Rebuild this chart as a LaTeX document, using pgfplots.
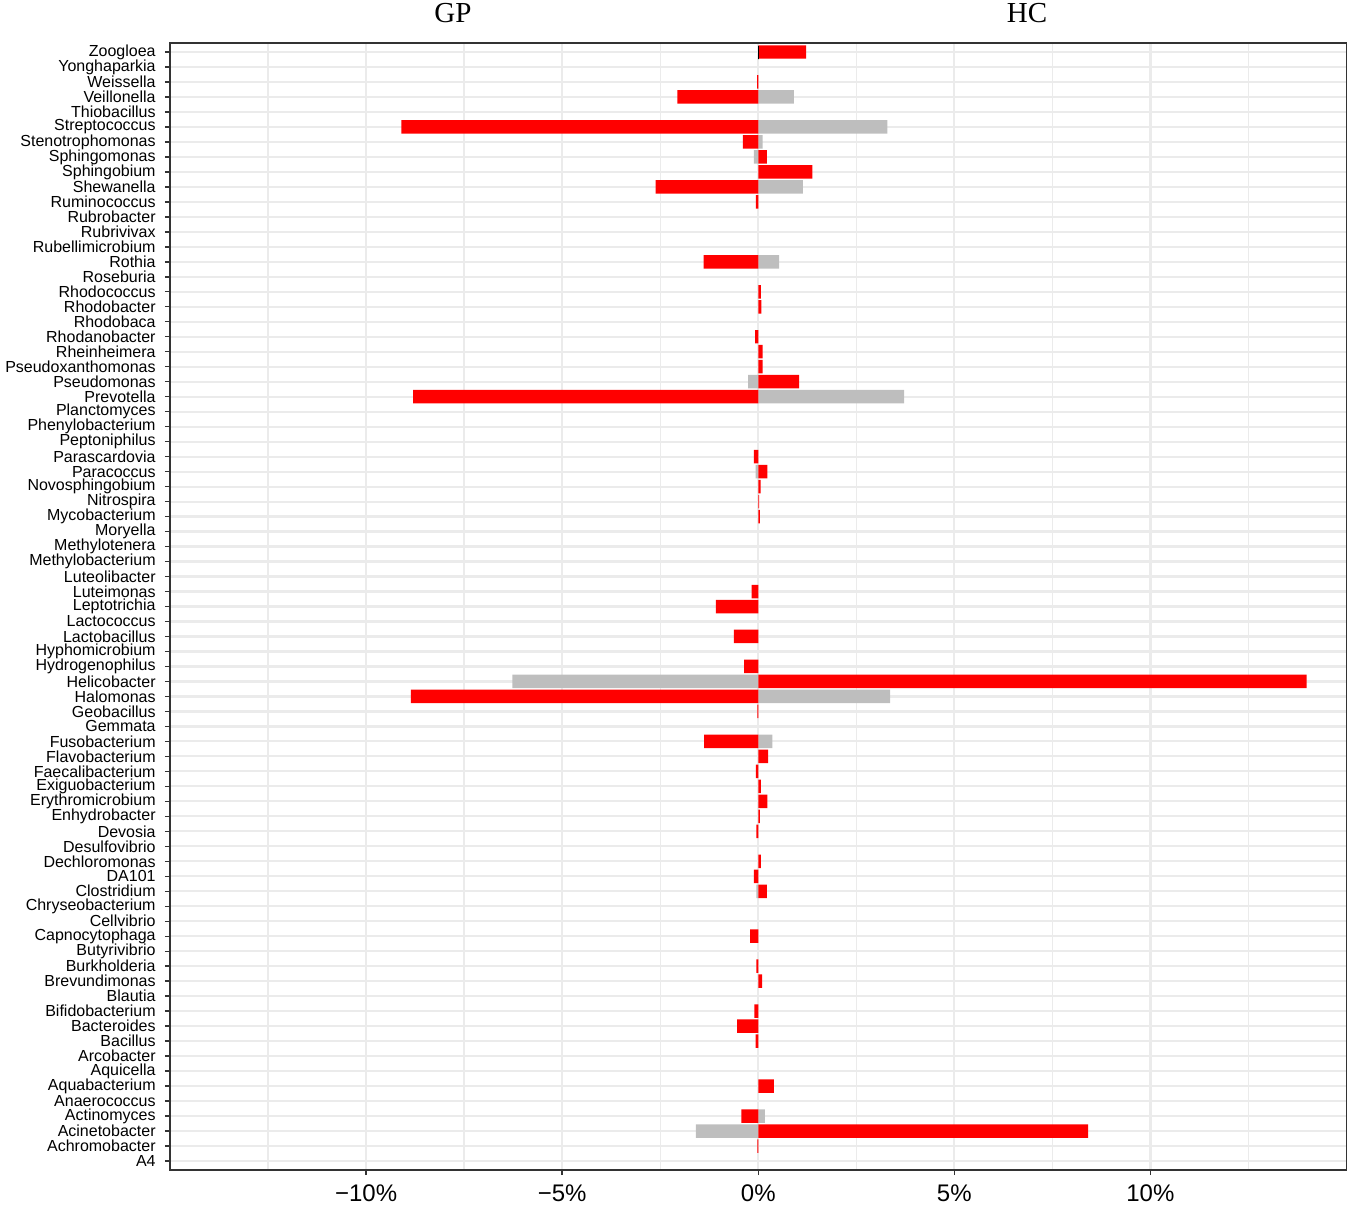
\documentclass[border=0pt]{standalone}
\usepackage{fontspec}
\setmainfont{Liberation Sans}
\newfontfamily\seriffont{Liberation Serif}
\usepackage{pgfplots}
\pgfplotsset{compat=1.18}
\definecolor{hcred}{HTML}{FF0000}
\definecolor{gpgray}{HTML}{BEBEBE}
\definecolor{gridgray}{HTML}{EBEBEB}
\definecolor{framegray}{HTML}{333333}

\begin{document}
\begin{tikzpicture}
\path[use as bounding box] (0,0) rectangle (675pt,602.5pt);
\begin{axis}[
  at={(85pt,17.5pt)}, anchor=south west,
  scale only axis, width=588.25pt, height=563.5pt,
  xmin=-15, xmax=15, ymin=0.4, ymax=75.6, y dir=reverse,
  xtick={-10,-5,0,5,10},
  xticklabels={−10\%,−5\%,0\%,5\%,10\%},
  minor xtick={-12.5,-7.5,-2.5,2.5,7.5,12.5},
  ytick={1,...,75},
  yticklabels={Zoogloea,Yonghaparkia,Weissella,Veillonella,Thiobacillus,Streptococcus,Stenotrophomonas,Sphingomonas,Sphingobium,Shewanella,Ruminococcus,Rubrobacter,Rubrivivax,Rubellimicrobium,Rothia,Roseburia,Rhodococcus,Rhodobacter,Rhodobaca,Rhodanobacter,Rheinheimera,Pseudoxanthomonas,Pseudomonas,Prevotella,Planctomyces,Phenylobacterium,Peptoniphilus,Parascardovia,Paracoccus,Novosphingobium,Nitrospira,Mycobacterium,Moryella,Methylotenera,Methylobacterium,Luteolibacter,Luteimonas,Leptotrichia,Lactococcus,Lactobacillus,Hyphomicrobium,Hydrogenophilus,Helicobacter,Halomonas,Geobacillus,Gemmata,Fusobacterium,Flavobacterium,Faecalibacterium,Exiguobacterium,Erythromicrobium,Enhydrobacter,Devosia,Desulfovibrio,Dechloromonas,DA101,Clostridium,Chryseobacterium,Cellvibrio,Capnocytophaga,Butyrivibrio,Burkholderia,Brevundimonas,Blautia,Bifidobacterium,Bacteroides,Bacillus,Arcobacter,Aquicella,Aquabacterium,Anaerococcus,Actinomyces,Acinetobacter,Achromobacter,A4},
  xtick pos=bottom, ytick pos=left,
  xmajorgrids, xminorgrids, ymajorgrids,
  major grid style={gridgray, line width=1.1pt},
  minor grid style={gridgray, line width=0.7pt},
  axis line style={framegray, line width=0.7pt},
  tick align=outside, major tick length=2.5pt, minor tick length=0pt,
  tick style={framegray, line width=0.7pt},
  xticklabel style={font=\fontsize{12}{12}\selectfont, inner sep=0pt, yshift=-4.5pt},
  yticklabel style={font=\fontsize{8}{8}\selectfont, inner sep=0pt, xshift=-4.5pt},
  xbar, bar width=0.9,
]
% grey series
\addplot[draw=none, fill=gpgray, bar shift=0pt] coordinates {
 (0.91,4) (3.29,6) (0.11,7) (-0.11,8) (1.14,10) (0.53,15) (-0.26,23) (3.72,24)
 (-0.07,29) (-6.27,43) (3.36,44) (0.36,47) (-0.05,57) (0.17,72) (-1.59,73)};
% red series
\addplot[draw=none, fill=hcred, bar shift=0pt] coordinates {
 (1.22,1) (-0.03,3) (-2.06,4) (-9.10,6) (-0.39,7) (0.22,8) (1.38,9) (-2.62,10)
 (-0.06,11) (-1.39,15) (0.07,17) (0.08,18) (-0.08,20) (0.11,21) (0.11,22)
 (1.04,23) (-8.80,24) (-0.11,28) (0.23,29) (0.06,30) (0.02,31) (0.04,32)
 (-0.17,37) (-1.08,38) (-0.62,40) (-0.36,42) (13.98,43) (-8.86,44) (-0.02,45)
 (-1.38,47) (0.25,48) (-0.06,49) (0.07,50) (0.23,51) (0.04,52) (-0.05,53)
 (0.07,55) (-0.11,56) (0.22,57) (-0.21,60) (-0.05,62) (0.10,63) (-0.10,65)
 (-0.54,66) (-0.07,67) (0.40,70) (-0.43,72) (8.41,73) (-0.02,74)};
% zero line
\addplot[black, line width=0.6pt, sharp plot, xbar=false] coordinates {(0,0.4) (0,75.6)};
\end{axis}
\node[font=\seriffont\fontsize{14.5}{14.5}\selectfont, anchor=base] at (226.5pt,591pt) {GP};
\node[font=\seriffont\fontsize{14.5}{14.5}\selectfont, anchor=base] at (513.5pt,591pt) {HC};
\end{tikzpicture}
\end{document}
